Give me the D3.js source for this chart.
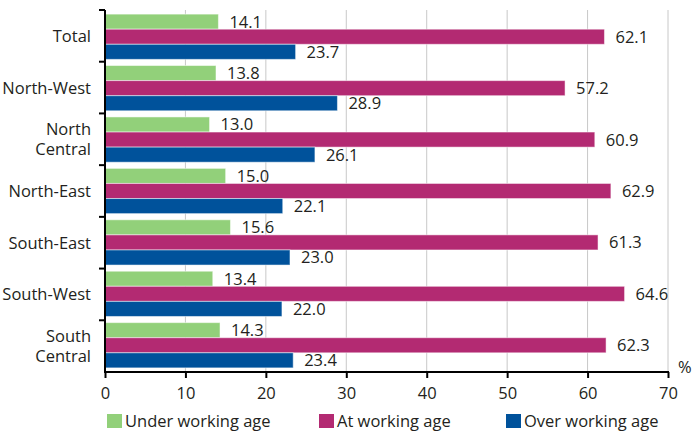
<!DOCTYPE html>
<html>
<head>
<meta charset="utf-8">
<script src="https://cdn.jsdelivr.net/npm/d3@7"></script>
<style>
  body { margin: 0; background: #fff; }
  text { font-family: "Open Sans", "Noto Sans", sans-serif; fill: #231f20; }
</style>
</head>
<body>
<svg width="698" height="432"></svg>
<script>
// regions top to bottom
var regions = ["Total", "North-West", "North Central", "North-East", "South-East", "South-West", "South Central"];
var seriesNames = ["Under working age", "At working age", "Over working age"];
var under = [14.1, 13.8, 13.0, 15.0, 15.6, 13.4, 14.3];
var atAge = [62.1, 57.2, 60.9, 62.9, 61.3, 64.6, 62.3];
var over = [23.7, 28.9, 26.1, 22.1, 23.0, 22.0, 23.4];
var xTicks = [0, 10, 20, 30, 40, 50, 60, 70];
var colors = ["#92d07a", "#b32a72", "#00529b"];

var mLeft = 105, mRight = 668, mTop = 10, mBottom = 372;
var fs = "16.5px";

var svg = d3.select("svg");

var x = d3.scaleLinear().domain([0, 70]).range([mLeft, mRight]);
var y = d3.scaleBand().domain(regions).range([mTop, mBottom]).paddingInner(0.12).paddingOuter(0.08);
var yBand = d3.scaleBand().domain(regions).range([mTop, mBottom]);
var inner = d3.scaleBand().domain([0, 1, 2]).range([0, y.bandwidth()]);

// gridlines
svg.append("g")
    .selectAll("line")
    .data(xTicks.slice(1))
    .enter()
    .append("line")
    .attr("x1", function (d) { return x(d); })
    .attr("x2", function (d) { return x(d); })
    .attr("y1", mTop)
    .attr("y2", mBottom)
    .attr("stroke", "#c8c8c8")
    .attr("stroke-width", 1);

var rows = regions.map(function (r, i) {
    return { region: r, values: [under[i], atAge[i], over[i]] };
});

var groups = svg.selectAll(".row")
    .data(rows)
    .enter()
    .append("g")
    .attr("class", "row")
    .attr("transform", function (d) { return "translate(0," + y(d.region) + ")"; });

groups.selectAll("rect")
    .data(function (d) { return d.values; })
    .enter()
    .append("rect")
    .attr("x", x(0))
    .attr("y", function (d, i) { return inner(i); })
    .attr("width", function (d) { return x(d) - x(0); })
    .attr("height", inner.bandwidth())
    .attr("fill", function (d, i) { return colors[i]; })
    .attr("stroke", "#ffffff")
    .attr("stroke-opacity", 0.5)
    .attr("stroke-width", 1);

groups.selectAll(".val")
    .data(function (d) { return d.values; })
    .enter()
    .append("text")
    .attr("class", "val")
    .attr("x", function (d) { return x(d) + 11; })
    .attr("y", function (d, i) { return inner(i) + inner.bandwidth() / 2; })
    .attr("dy", "0.36em")
    .style("font-size", fs)
    .text(function (d) { return d.toFixed(1); });

// y axis
var yAxis = svg.append("g")
    .attr("transform", "translate(" + mLeft + ",0)");
yAxis.append("line")
    .attr("x1", 0).attr("x2", 0)
    .attr("y1", mTop).attr("y2", mBottom)
    .attr("stroke", "#000").attr("stroke-width", 2);
yAxis.selectAll(".tk")
    .data(regions)
    .enter()
    .append("line")
    .attr("x1", -6).attr("x2", 0)
    .attr("y1", function (d) { return yBand(d); })
    .attr("y2", function (d) { return yBand(d); })
    .attr("stroke", "#000").attr("stroke-width", 2);

yAxis.selectAll(".lbl")
    .data(regions)
    .enter()
    .append("text")
    .attr("text-anchor", "end")
    .attr("x", -14)
    .attr("y", function (d) { return yBand(d) + yBand.bandwidth() / 2; })
    .style("font-size", fs)
    .each(function (d) {
        var t = d3.select(this);
        var parts = d.indexOf(" ") > 0 ? d.split(" ") : [d];
        parts.forEach(function (p, k) {
            t.append("tspan")
                .attr("x", -14)
                .attr("dy", k === 0 ? (parts.length > 1 ? "-0.25em" : "0.36em") : "1.2em")
                .text(p);
        });
    });

// x axis
var xAxis = svg.append("g")
    .attr("transform", "translate(0," + mBottom + ")")
    .call(d3.axisBottom(x).tickValues(xTicks).tickSize(6).tickPadding(9).tickFormat(d3.format("d")));
xAxis.select(".domain").attr("stroke", "#000").attr("stroke-width", 2)
    .attr("d", "M" + (mLeft - 1) + ",0H" + (mRight + 1));
xAxis.selectAll(".tick line").attr("stroke", "#000").attr("stroke-width", 2);
xAxis.selectAll(".tick text")
    .style("font-size", fs)
    .style("font-family", "'Open Sans', 'Noto Sans', sans-serif")
    .attr("fill", "#231f20");

svg.append("text")
    .attr("x", 678).attr("y", 373)
    .style("font-size", fs)
    .text("%");

// legend
var legendX = [107, 319, 506];
var legend = svg.selectAll(".leg")
    .data(seriesNames)
    .enter()
    .append("g")
    .attr("transform", function (d, i) { return "translate(" + legendX[i] + ",414)"; });
legend.append("rect")
    .attr("width", 15).attr("height", 14)
    .attr("fill", function (d, i) { return colors[i]; });
legend.append("text")
    .attr("x", 18).attr("y", 7.5)
    .attr("dy", "0.36em")
    .style("font-size", fs)
    .text(function (d) { return d; });
</script>
</body>
</html>
